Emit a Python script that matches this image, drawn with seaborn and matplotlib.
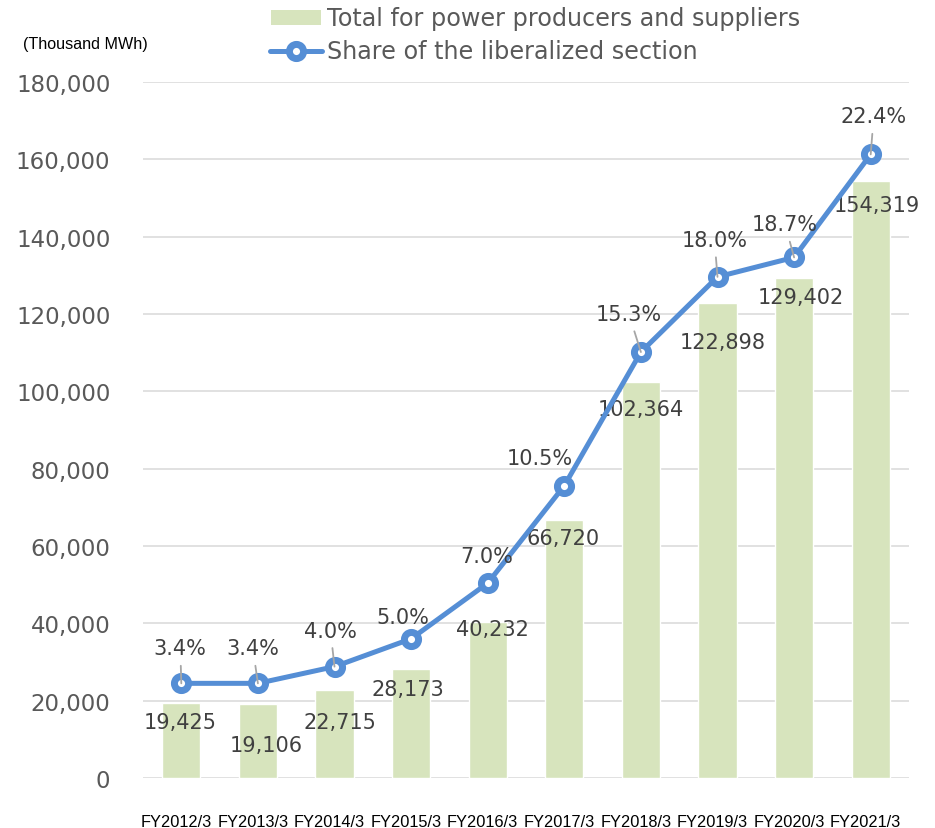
import numpy as np
import pandas as pd
import matplotlib
matplotlib.use("Agg")
import matplotlib.pyplot as plt
import matplotlib.transforms as mtransforms
from matplotlib.patches import Rectangle
from matplotlib.lines import Line2D
from matplotlib.ticker import FuncFormatter
import seaborn as sns

# Electricity sold by power producers and suppliers (thousand MWh)
fiscal_years = ["FY2012/3", "FY2013/3", "FY2014/3", "FY2015/3", "FY2016/3",
                "FY2017/3", "FY2018/3", "FY2019/3", "FY2020/3", "FY2021/3"]
total_supply = [19425, 19106, 22715, 28173, 40232, 66720, 102364, 122898, 129402, 154319]
# Share of the liberalized section (%)
liberalized_share = [3.4, 3.4, 4.0, 5.0, 7.0, 10.5, 15.3, 18.0, 18.7, 22.4]

bar_legend = "Total for power producers and suppliers"
line_legend = "Share of the liberalized section"
unit_label = "(Thousand MWh)"

# label placement (pixel offsets from the mark, image-style y down)
bar_label_offsets = [(-1, 19), (8, 41), (5, 32), (-3, 20), (5, 7),
                     (-1, 18), (0, 27), (5, 39), (7, 19), (6, 24)]
share_label_offsets = [(-1, -35), (-5, -35), (-4, -36), (-8, -22), (-1, -27),
                       (-25, -28), (-12, -38), (-3, -37), (-9, -33), (3, -38)]

BAR_COLOR = "#D7E4BD"
LINE_COLOR = "#558ED5"
TEXT_DARK = "#404040"
TEXT_TICK = "#595959"
GRID = "#D9D9D9"

sns.set_theme(style="white")
plt.rcParams["font.family"] = ["DejaVu Sans"]

W, H = 935, 829
fig = plt.figure(figsize=(W / 100, H / 100), dpi=100)
fig.patch.set_facecolor("white")

left, right, top, bottom = 143, 909, 83, 779
ax = fig.add_axes([left / W, 1 - bottom / H, (right - left) / W, (bottom - top) / H])

df = pd.DataFrame({"year": fiscal_years, "total": total_supply, "share": liberalized_share})

sns.barplot(data=df, x="year", y="total", color=BAR_COLOR, saturation=1,
            width=0.5, ax=ax, zorder=2)
ax.set_xlim(-0.5, len(fiscal_years) - 0.5)
ax.set_ylim(0, 180000)
ax.set_yticks(np.arange(0, 180001, 20000))
ax.yaxis.set_major_formatter(FuncFormatter(lambda v, _: f"{int(v):,}"))
ax.yaxis.grid(True, color=GRID, linewidth=1.1)
ax.xaxis.grid(False)
ax.set_axisbelow(True)
for s in ax.spines.values():
    s.set_visible(False)
ax.set_xlabel("")
ax.set_ylabel("")
ax.tick_params(axis="y", length=0, pad=23.5, labelsize=16.5, labelcolor=TEXT_TICK)
ax.tick_params(axis="x", length=0, pad=26, labelsize=11.8, labelcolor="#000000")
shift = mtransforms.ScaledTranslation(-5 / 100, 0, fig.dpi_scale_trans)
for lbl in ax.get_xticklabels():
    lbl.set_fontfamily(["Liberation Sans", "DejaVu Sans"])
    lbl.set_transform(lbl.get_transform() + shift)

# secondary scale for the share line
ax2 = ax.twinx()
positions = np.arange(len(fiscal_years))
sns.lineplot(x=positions, y=df["share"], ax=ax2, color=LINE_COLOR, linewidth=3.6,
             marker="o", markersize=10.2, markerfacecolor="white",
             markeredgecolor=LINE_COLOR, markeredgewidth=5.0, zorder=3)
ax2.set_ylim(0, 25)
ax2.set_xlim(-0.5, len(fiscal_years) - 0.5)
ax2.set_yticks([])
ax2.set_xlabel("")
ax2.set_ylabel("")
for s in ax2.spines.values():
    s.set_visible(False)

# bar value labels
for i, (v, (dx, dy)) in enumerate(zip(df["total"], bar_label_offsets)):
    ax.annotate(f"{v:,}", xy=(i, v), xytext=(dx, -dy), textcoords="offset pixels",
                ha="center", va="center", fontsize=15, color=TEXT_DARK, zorder=5)

# share labels with leader lines where moved away from the point
for i, (s, (dx, dy)) in enumerate(zip(df["share"], share_label_offsets)):
    arrow = None
    if abs(dy) >= 30:
        arrow = dict(arrowstyle="-", color="#A6A6A6", lw=1.3, shrinkA=3, shrinkB=0)
    ax2.annotate(f"{s:.1f}%", xy=(i, s), xytext=(dx, -dy), textcoords="offset pixels",
                 ha="center", va="center", fontsize=15, color=TEXT_DARK,
                 arrowprops=arrow, zorder=5)

# legend
def fx(px):
    return px / W

def fy(py):
    return 1 - py / H

fig.patches.append(Rectangle((fx(271), fy(26)), fx(321) - fx(271), fy(11) - fy(26),
                             transform=fig.transFigure, facecolor=BAR_COLOR,
                             edgecolor="none"))
fig.lines.append(Line2D([fx(270), fx(322)], [fy(52), fy(52)], transform=fig.transFigure,
                        color=LINE_COLOR, linewidth=3.6, solid_capstyle="round"))
fig.lines.append(Line2D([fx(296)], [fy(52)], transform=fig.transFigure,
                        marker="o", markersize=10.2, markerfacecolor="white",
                        markeredgecolor=LINE_COLOR, markeredgewidth=5.0, linestyle="none"))
fig.text(fx(327), fy(19), bar_legend, ha="left", va="center", fontsize=17.2, color=TEXT_TICK)
fig.text(fx(327), fy(52), line_legend, ha="left", va="center", fontsize=17.2, color=TEXT_TICK)

fig.text(fx(23), fy(44), unit_label, ha="left", va="center", fontsize=11.6,
         family=["Liberation Sans", "DejaVu Sans"], color="#000000")

fig.savefig("out.png", dpi=100, facecolor="white")
